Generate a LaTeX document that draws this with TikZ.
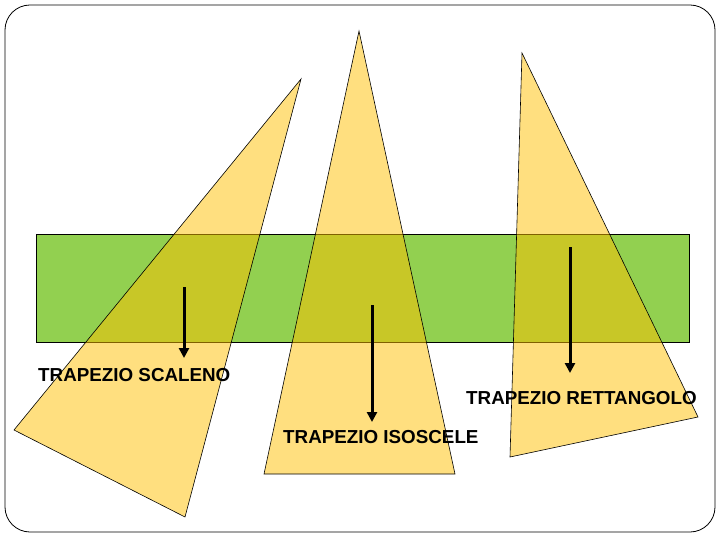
\documentclass[tikz,border=0pt]{standalone}
\usepackage{fontspec}
\setmainfont{Liberation Sans}
\usepackage{xcolor}
\usepackage{tikz}
\usetikzlibrary{arrows.meta}
\definecolor{ink}{HTML}{000000}
\definecolor{pgreen}{HTML}{92D050}
\definecolor{pyellow}{HTML}{FFC000}

\begin{document}
\begin{tikzpicture}[x=1pt, y=-1pt,
  font=\fontsize{18.8}{21}\selectfont\bfseries,
  frame/.style={draw=ink, line width=0.8pt, rounded corners=25pt},
  band/.style={draw=ink, line width=0.6pt, fill=pgreen},
  trap/.style={draw=ink, line width=0.6pt, fill=pyellow, fill opacity=0.5},
  lbl/.style={inner sep=0pt, anchor=west, text=ink},
  arr/.style={-{Triangle[length=10pt, width=10pt]}, line width=3pt, draw=ink},
]
\useasboundingbox (0,0) rectangle (720,540);
\draw[frame] (5,5) rectangle (715,532);
\draw[band] (36,234) rectangle (689,342);
\draw[trap] (301,79) -- (14,430) -- (185,517) -- cycle;
\draw[trap] (359,31) -- (264,474) -- (455,474) -- cycle;
\draw[trap] (522,53) -- (510,457) -- (698,417) -- cycle;
\node[lbl] (scal) at (38,375) {TRAPEZIO SCALENO};
\node[lbl] (isos) at (283,437) {TRAPEZIO ISOSCELE};
\node[lbl] (rett) at (466,398) {TRAPEZIO RETTANGOLO};
\coordinate (scaltop) at (184,287);
\coordinate (scalend) at (184,358);
\coordinate (isostop) at (372,305);
\coordinate (isosend) at (372,422);
\coordinate (retttop) at (570,247);
\coordinate (rettend) at (570,373);
\draw[arr] (scaltop) -- (scalend);
\draw[arr] (isostop) -- (isosend);
\draw[arr] (retttop) -- (rettend);
\end{tikzpicture}
\end{document}
